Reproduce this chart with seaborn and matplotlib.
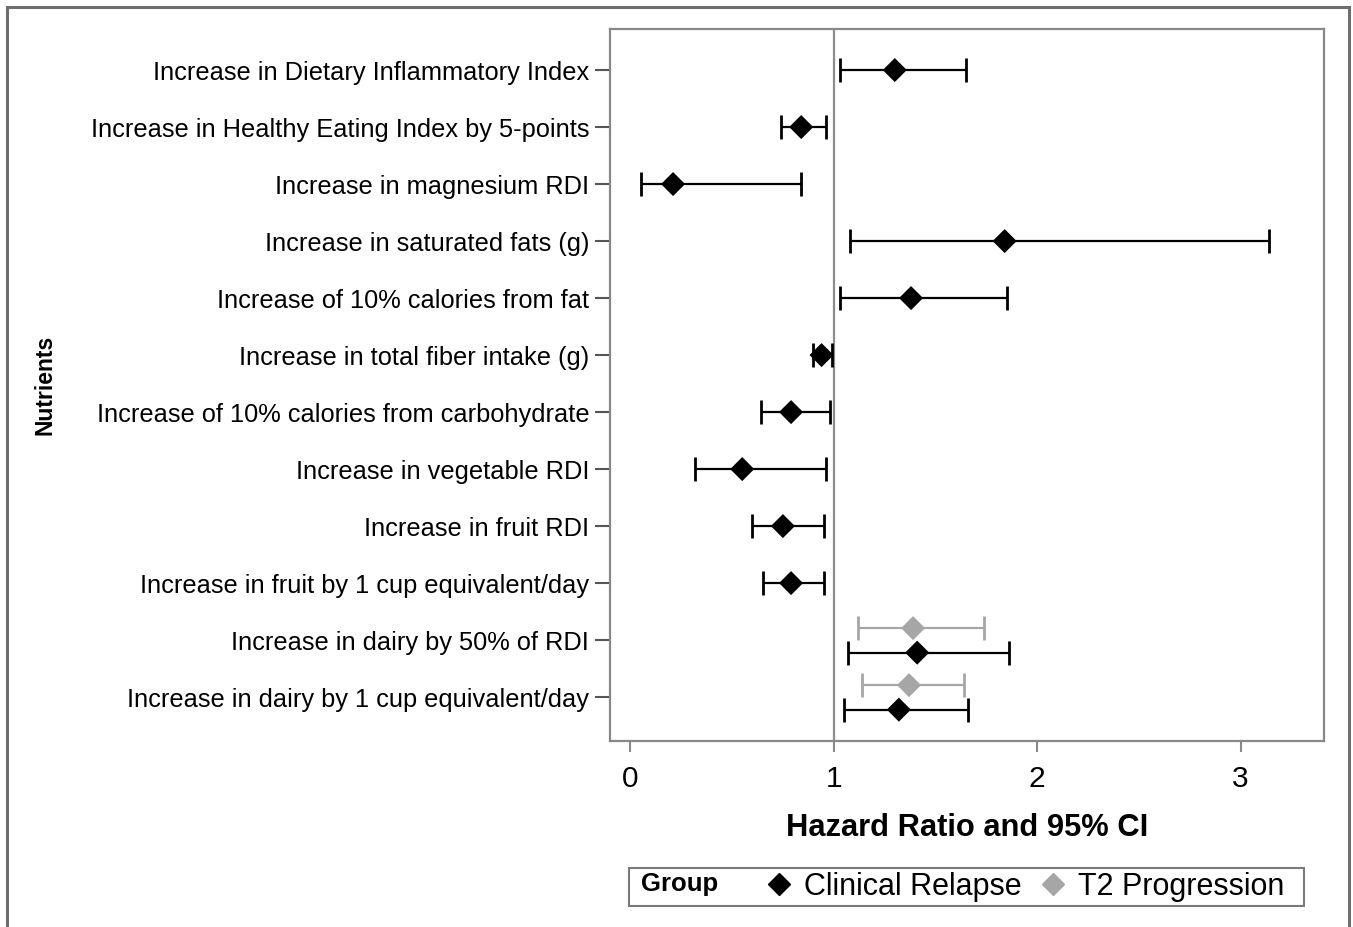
import numpy as np
import pandas as pd
import seaborn as sns
import matplotlib.pyplot as plt
from matplotlib.lines import Line2D
from matplotlib.patches import Rectangle

# dados (razão de risco e IC 95%)
nutrientes = [
    "Increase in Dietary Inflammatory Index",
    "Increase in Healthy Eating Index by 5-points",
    "Increase in magnesium RDI",
    "Increase in saturated fats (g)",
    "Increase of 10% calories from fat",
    "Increase in total fiber intake (g)",
    "Increase of 10% calories from carbohydrate",
    "Increase in vegetable RDI",
    "Increase in fruit RDI",
    "Increase in fruit by 1 cup equivalent/day",
    "Increase in dairy by 50% of RDI",
    "Increase in dairy by 1 cup equivalent/day",
]

hr_relapse = [1.30, 0.84, 0.21, 1.84, 1.38, 0.94, 0.79, 0.55, 0.75, 0.79, 1.41, 1.32]
low_relapse = [1.03, 0.74, 0.05, 1.08, 1.03, 0.90, 0.64, 0.32, 0.60, 0.65, 1.07, 1.05]
up_relapse = [1.65, 0.96, 0.84, 3.14, 1.85, 0.99, 0.98, 0.96, 0.95, 0.95, 1.86, 1.66]

nutrientes_t2 = ["Increase in dairy by 50% of RDI", "Increase in dairy by 1 cup equivalent/day"]
hr_t2 = [1.39, 1.37]
low_t2 = [1.12, 1.14]
up_t2 = [1.74, 1.64]

grupos = ["Clinical Relapse", "T2 Progression"]
cores = {"Clinical Relapse": "black", "T2 Progression": "#a6a6a6"}

df = pd.concat([
    pd.DataFrame({"Nutrient": nutrientes, "HR": hr_relapse, "Low": low_relapse,
                  "Up": up_relapse, "Group": grupos[0]}),
    pd.DataFrame({"Nutrient": nutrientes_t2, "HR": hr_t2, "Low": low_t2,
                  "Up": up_t2, "Group": grupos[1]}),
], ignore_index=True)

# posição vertical: linhas com dois grupos ficam deslocadas
pos = {n: i for i, n in enumerate(nutrientes)}
dois = set(nutrientes_t2)
desloc = {grupos[0]: 0.22, grupos[1]: -0.21}
df["y"] = [pos[n] + (desloc[g] if n in dois else 0.0) for n, g in zip(df["Nutrient"], df["Group"])]

sns.set_theme(style="white")
plt.rcParams["font.family"] = ["Liberation Sans", "DejaVu Sans"]
plt.rcParams["text.color"] = "black"
plt.rcParams["axes.labelcolor"] = "black"
plt.rcParams["xtick.labelcolor"] = "black"
plt.rcParams["ytick.labelcolor"] = "black"

fig = plt.figure(figsize=(13.53, 9.27), dpi=100)
ax = fig.add_axes([610 / 1353, 1 - 741 / 927, 714 / 1353, 712 / 927])

# linha de referência em HR = 1
ax.axvline(1, color="#8c8c8c", lw=1.6, zorder=1)

for g in grupos:
    sub = df[df["Group"] == g]
    ax.errorbar(sub["HR"], sub["y"],
                xerr=[sub["HR"] - sub["Low"], sub["Up"] - sub["HR"]],
                fmt="none", ecolor=cores[g], elinewidth=1.6, capsize=8.5,
                capthick=2.0, zorder=2)

sns.scatterplot(data=df, x="HR", y="y", hue="Group", palette=cores, marker="D",
                s=150, edgecolor="none", legend=False, ax=ax, zorder=3)

ax.set_xlim(-0.1, 3.41)
ax.set_ylim(11.77, -0.72)
ax.set_xticks([0, 1, 2, 3])
ax.set_yticks(range(len(nutrientes)))
ax.set_yticklabels(nutrientes)
ax.tick_params(axis="y", labelsize=18.3, length=11, width=1.5, color="#555555", pad=4, left=True)
ax.tick_params(axis="x", labelsize=21.5, length=8, width=1.5, color="#888888", pad=9, bottom=True)

for s in ax.spines.values():
    s.set_color("#888888")
    s.set_linewidth(1.6)

ax.set_xlabel("Hazard Ratio and 95% CI", fontsize=22.2, fontweight="bold")
ax.xaxis.label.set_va("center")
ax.xaxis.set_label_coords(0.5, -0.122)
ax.set_ylabel("Nutrients", fontsize=16.5, fontweight="bold")
ax.yaxis.label.set_va("center")
ax.yaxis.set_label_coords(-0.791, 0.5)

# legenda com caixa e título à esquerda
fig.add_artist(Rectangle((629 / 1353, 1 - 906 / 927), 675 / 1353, 38 / 927,
                         transform=fig.transFigure, fill=False, ec="#7a7a7a", lw=1.5))
fig.text(641 / 1353, 1 - 884 / 927, "Group", fontsize=18.5, fontweight="bold", va="center")
handles = [Line2D([], [], marker="D", ls="none", color=cores[g], ms=11) for g in grupos]
fig.legend(handles, grupos, loc="center left", bbox_to_anchor=(764 / 1353, 1 - 887 / 927),
           ncol=2, frameon=False, fontsize=22, handletextpad=0.3, columnspacing=0.55,
           handlelength=1.0, borderpad=0, borderaxespad=0)

# moldura externa da figura
fig.add_artist(Rectangle((7 / 1353, -0.05), 1342 / 1353, 1.05 - 7 / 927,
                         transform=fig.transFigure, fill=False, ec="#6e6e6e", lw=2.2))

fig.savefig("out.png", dpi=100)
